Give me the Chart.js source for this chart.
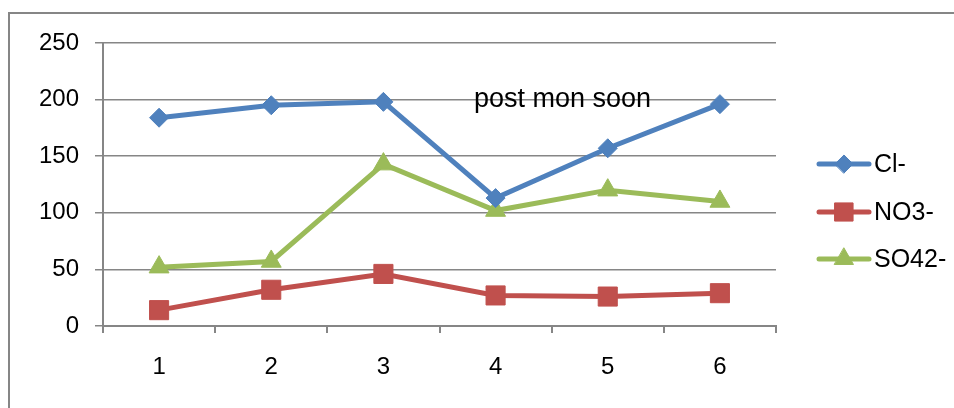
<!DOCTYPE html>
<html>
<head>
<meta charset="utf-8">
<script src="https://cdn.jsdelivr.net/npm/chart.js@4"></script>
<style>
  html, body { margin: 0; padding: 0; background: #fff; }
  #wrap { width: 954px; height: 408px; }
</style>
</head>
<body>
<div id="wrap"><canvas id="grafico" width="954" height="408"></canvas></div>
<script>
// datos
const categorias = ['1', '2', '3', '4', '5', '6'];
const cloruro = [184, 195, 198, 113, 157, 196];
const nitrato = [14, 32, 46, 27, 26, 29];
const sulfato = [52, 57, 143, 102, 120, 110];
const tituloTexto = 'post mon soon';

const fuente = '"Liberation Sans", Arial, sans-serif';
const gris = '#868686';

// marco exterior y fondo
const marco = {
    id: 'marco',
    beforeDraw(chart) {
        const ctx = chart.ctx;
        ctx.save();
        ctx.fillStyle = '#fff';
        ctx.fillRect(0, 0, chart.width, chart.height);
        ctx.strokeStyle = gris;
        ctx.lineWidth = 2;
        ctx.beginPath();
        ctx.moveTo(9, chart.height);
        ctx.lineTo(9, 13);
        ctx.lineTo(chart.width, 13);
        ctx.stroke();
        ctx.restore();
    }
};

// titulo dentro del area y leyenda con linea + marcador
const extras = {
    id: 'extras',
    afterDraw(chart) {
        const ctx = chart.ctx;
        ctx.save();
        ctx.fillStyle = '#000';
        ctx.font = '27px ' + fuente;
        ctx.textBaseline = 'alphabetic';
        ctx.fillText(tituloTexto, 474, 107);

        const filas = [164, 212, 259];
        chart.data.datasets.forEach((ds, i) => {
            const y = filas[i];
            ctx.strokeStyle = ds.borderColor;
            ctx.lineWidth = 5;
            ctx.lineCap = 'round';
            ctx.beginPath();
            ctx.moveTo(819, y);
            ctx.lineTo(869, y);
            ctx.stroke();
            ctx.fillStyle = ds.backgroundColor;
            ctx.strokeStyle = ds.borderColor;
            ctx.lineWidth = 1;
            Chart.helpers.drawPoint(ctx, {
                pointStyle: ds.pointStyle,
                radius: ds.pointRadius * 0.95,
                borderWidth: 1
            }, 844, y);
            ctx.fillStyle = '#000';
            ctx.font = '25px ' + fuente;
            ctx.textBaseline = 'middle';
            ctx.fillText(ds.label, 874, y + 1);
        });
        ctx.restore();
    }
};

const ctx = document.getElementById('grafico').getContext('2d');
const miGrafico = new Chart(ctx, {
    type: 'line',
    data: {
        labels: categorias,
        datasets: [{
            label: 'Cl-',
            data: cloruro,
            borderColor: '#4F81BD',
            backgroundColor: '#4F81BD',
            pointStyle: 'rectRot',
            pointRadius: 9.5,
            borderWidth: 5,
            pointBorderWidth: 1
        }, {
            label: 'NO3-',
            data: nitrato,
            borderColor: '#C0504D',
            backgroundColor: '#C0504D',
            pointStyle: 'rect',
            pointRadius: 13.5,
            borderWidth: 5,
            pointBorderWidth: 1
        }, {
            label: 'SO42-',
            data: sulfato,
            borderColor: '#9BBB59',
            backgroundColor: '#9BBB59',
            pointStyle: 'triangle',
            pointRadius: 11.5,
            borderWidth: 5,
            pointBorderWidth: 1
        }]
    },
    options: {
        responsive: false,
        animation: false,
        events: [],
        layout: { padding: { top: 43, right: 178, left: 0, bottom: 0 } },
        plugins: {
            legend: { display: false },
            title: { display: false },
            tooltip: { enabled: false }
        },
        scales: {
            x: {
                offset: true,
                grid: {
                    offset: true,
                    drawOnChartArea: false,
                    color: gris,
                    lineWidth: 2,
                    tickLength: 7
                },
                border: { color: gris, width: 2 },
                ticks: {
                    color: '#000',
                    padding: 20,
                    font: { family: fuente, size: 24 }
                },
                afterFit(scale) { scale.height = 82; }
            },
            y: {
                min: 0,
                max: 250,
                ticks: {
                    stepSize: 50,
                    color: '#000',
                    padding: 16,
                    font: { family: fuente, size: 24 }
                },
                grid: { color: gris, lineWidth: 1.5, tickLength: 8 },
                border: { color: gris, width: 2 },
                afterFit(scale) { scale.width = 103; }
            }
        }
    },
    plugins: [marco, extras]
});
</script>
</body>
</html>
